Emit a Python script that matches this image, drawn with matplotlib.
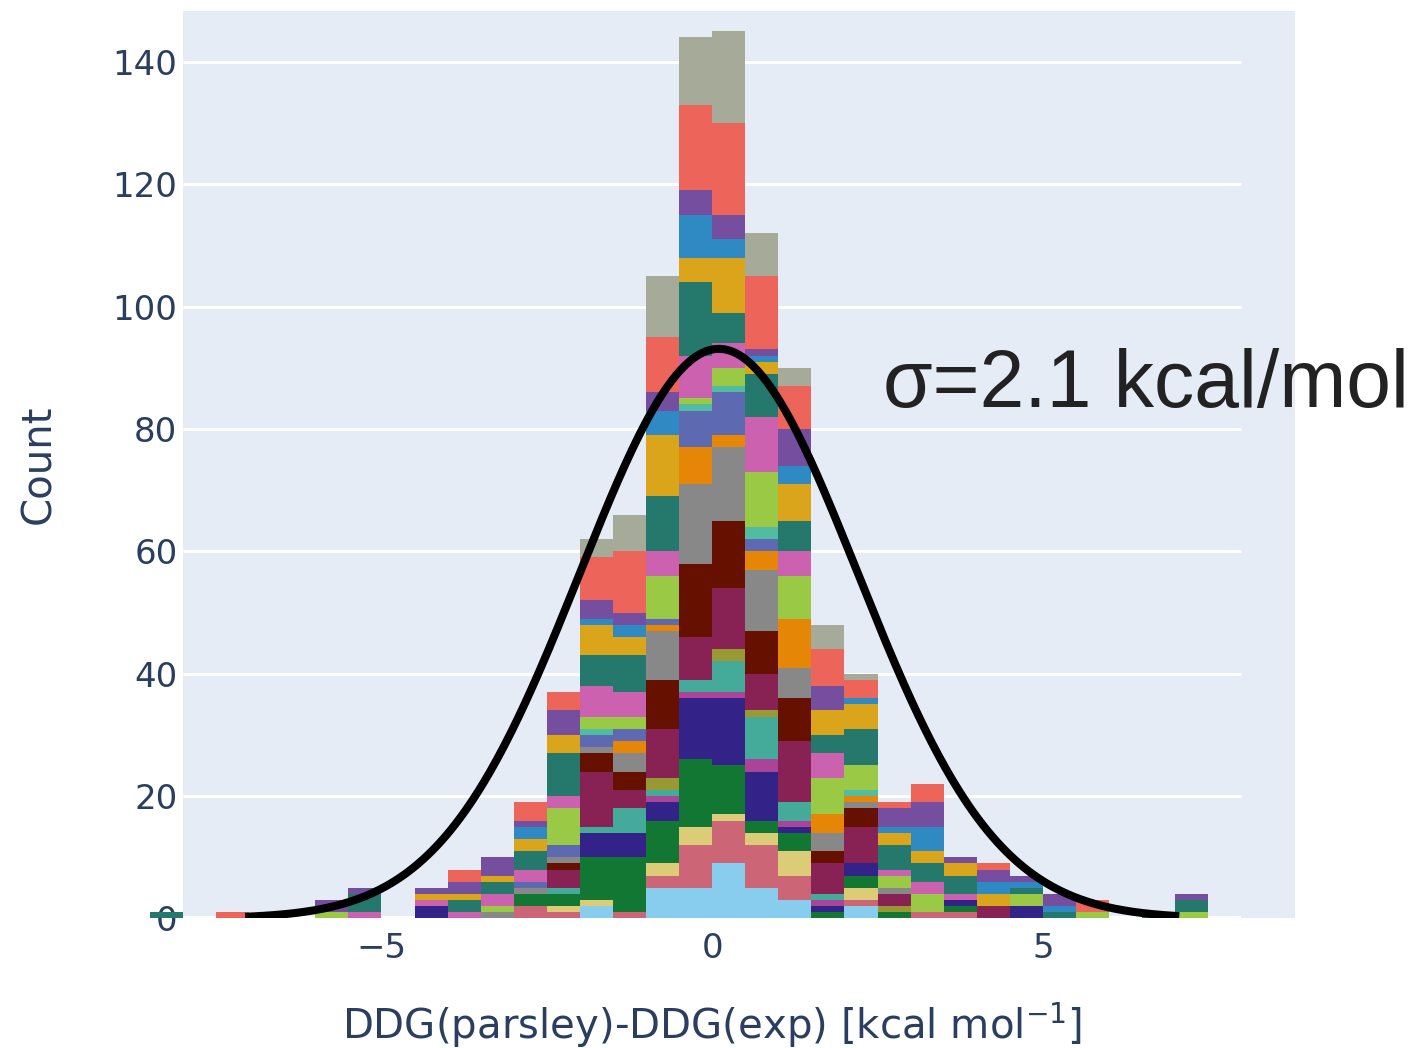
import numpy as np
import matplotlib
matplotlib.use("Agg")
import matplotlib.pyplot as plt

# histogram bins: left edges, width 0.5 kcal/mol
bin_left = np.arange(-8.5, 7.5, 0.5)
bin_width = 0.5

# counts per bin for each stacked group (bottom -> top)
c_lightblue = [0,0,0,0,0,0,0,0,0,0,0,0,0,2,0,5,5,9,5,3,0,2,0,0,0,0,0,0,0,0,0,0]
c_rose      = [0,0,0,0,0,0,0,0,0,0,0,2,1,0,1,2,7,7,7,4,0,1,0,1,1,0,0,0,0,0,0,0]
c_sand      = [0,0,0,0,0,0,0,0,0,0,0,0,1,1,0,2,3,1,2,4,0,2,0,0,0,0,0,0,0,0,0,0]
c_green     = [0,0,0,0,0,0,0,0,0,0,0,2,2,7,9,7,11,8,2,3,1,2,1,0,1,0,0,0,0,0,0,0]
c_indigo    = [0,0,0,0,0,0,0,0,2,0,0,0,0,4,4,3,10,11,8,1,1,2,0,0,1,0,2,0,0,0,0,0]
c_magenta   = [0,0,0,0,0,0,0,0,0,0,0,0,0,0,0,1,1,1,2,1,1,0,0,0,0,0,0,0,0,0,0,0]
c_teal      = [0,0,0,0,0,0,0,0,0,0,0,0,1,1,4,1,2,5,7,3,1,0,0,0,0,0,0,0,0,0,0,0]
c_olive     = [0,0,0,0,0,0,0,0,0,0,0,0,0,0,0,2,0,2,1,0,0,0,1,0,0,0,0,0,0,0,0,0]
c_wine      = [0,0,0,0,0,0,0,0,0,0,0,0,3,9,3,8,7,10,6,10,5,6,2,0,0,2,0,0,0,0,0,0]
c_brown     = [0,0,0,0,0,0,0,0,0,0,0,0,1,3,3,8,12,11,7,7,2,3,0,0,0,0,0,0,0,0,0,0]
c_gray      = [0,0,0,0,0,0,0,0,0,0,1,1,1,1,3,8,13,12,10,5,3,1,1,0,0,0,0,0,0,0,0,0]
c_orange    = [0,0,0,0,0,0,0,0,0,0,0,0,0,0,2,1,6,2,3,8,3,1,0,0,0,0,0,0,0,0,0,0]
c_slate     = [0,0,0,0,0,0,0,0,0,0,0,1,2,2,2,1,6,7,2,0,0,0,0,0,0,0,0,0,0,0,0,0]
c_mint      = [0,0,0,0,0,0,0,0,0,0,0,0,0,1,0,0,1,1,2,0,0,1,0,0,0,0,0,0,0,0,0,0]
c_lime      = [0,0,0,0,0,1,0,0,0,0,1,0,6,2,2,7,1,3,9,7,6,4,2,3,0,0,2,0,1,0,0,1]
c_pink      = [0,0,0,0,0,0,1,0,1,1,2,2,2,5,4,4,7,4,9,4,4,0,1,2,1,0,0,0,0,0,0,0]
c_darkteal  = [1,0,0,0,0,0,3,0,0,2,2,3,7,5,6,9,12,5,7,5,3,6,4,3,3,0,1,1,0,0,1,2]
c_gold      = [0,0,0,0,0,0,0,0,1,1,1,2,3,5,3,10,4,9,2,6,4,4,2,2,2,2,0,0,0,0,0,0]
c_blue      = [0,0,0,0,0,0,0,0,0,0,0,2,0,1,2,4,7,3,1,3,0,1,1,4,0,2,1,1,0,0,0,0]
c_purple    = [0,0,0,0,0,2,1,0,1,2,3,1,4,3,2,3,4,4,1,6,4,0,3,4,1,2,1,2,0,0,0,1]
c_red       = [0,0,1,0,0,0,0,0,0,2,0,3,3,7,10,9,14,15,12,7,6,3,1,3,0,1,0,0,2,0,0,0]
c_sage      = [0,0,0,0,0,0,0,0,0,0,0,0,0,3,6,10,11,15,7,3,4,1,0,0,0,0,0,0,0,0,0,0]

groups = [c_lightblue, c_rose, c_sand, c_green, c_indigo, c_magenta, c_teal,
          c_olive, c_wine, c_brown, c_gray, c_orange, c_slate, c_mint, c_lime,
          c_pink, c_darkteal, c_gold, c_blue, c_purple, c_red, c_sage]

colors = ["#88CCEE", "#CC6677", "#DDCC77", "#117733", "#332288", "#AA4499",
          "#44AA99", "#999933", "#882255", "#661100", "#888888",
          "#E58606", "#5D69B1", "#52BCA3", "#99C945", "#CC61B0", "#24796C",
          "#DAA51B", "#2F8AC4", "#764E9F", "#ED645A", "#A5AA99"]

# normal fit drawn over the histogram
fit_mu = 0.1
fit_sigma = 2.1

fig = plt.figure(figsize=(14.12, 10.48), dpi=100)
ax = fig.add_axes([0.1296, 0.1236, 0.7875, 0.8659])
ax.set_facecolor("#E5ECF6")
for s in ax.spines.values():
    s.set_visible(False)

ax.set_xlim(-8.0, 8.81)
ax.set_ylim(0, 148.3)

# grid lines stop at x = 8
for yv in range(20, 141, 20):
    ax.plot([-8, 8], [yv, yv], color="white", lw=2.2, zorder=1, solid_capstyle="butt")
ax.plot([-8, 8], [0, 0], color="white", lw=3, zorder=1, solid_capstyle="butt")

bottom = np.zeros(len(bin_left))
for cnt, col in zip(groups, colors):
    cnt = np.array(cnt, dtype=float)
    ax.bar(bin_left, cnt, width=bin_width, bottom=bottom, align="edge",
           color=col, linewidth=0, zorder=3, clip_on=False)
    bottom += cnt

total = bottom.sum()
xs = np.linspace(-7.0, 7.0, 400)
ys = total * bin_width / (fit_sigma * np.sqrt(2 * np.pi)) * np.exp(-0.5 * ((xs - fit_mu) / fit_sigma) ** 2)
ax.plot(xs, ys, color="black", lw=5.8, zorder=5)

ax.text(2.58, 83.6, "σ=2.1 kcal/mol", fontsize=58, family="Liberation Sans",
        color="#222222", ha="left", va="baseline", zorder=6, clip_on=False)

tick_col = "#2A3F5F"
ax.set_yticks(range(0, 141, 20))
ax.set_xticks([-5, 0, 5])
ax.set_xticklabels(["\u22125", "0", "5"])
ax.tick_params(axis="both", length=0, labelsize=24.5, labelcolor=tick_col)
ax.tick_params(axis="y", pad=4)
ax.tick_params(axis="x", pad=10)
for lab in ax.get_xticklabels() + ax.get_yticklabels():
    lab.set_family("DejaVu Sans")

ax.set_ylabel("Count", fontsize=29, color=tick_col, family="DejaVu Sans")
ax.yaxis.set_label_coords(-0.1115, 0.5)
ax.set_xlabel("DDG(parsley)-DDG(exp) [kcal mol$^{\\mathregular{-1}}$]", fontsize=29,
              color=tick_col, family="DejaVu Sans")
# centred on x = 0 (middle of the -8..8 range)
ax.xaxis.set_label_coords(0.4757, -0.0902)

# descender of a clipped title glyph at the top edge
fig.text(1300 / 1412, 1 + 16 / 1048, "g", fontsize=56, family="Liberation Sans",
         color="#222222", ha="center", va="baseline")

fig.savefig("out.png", dpi=100)
